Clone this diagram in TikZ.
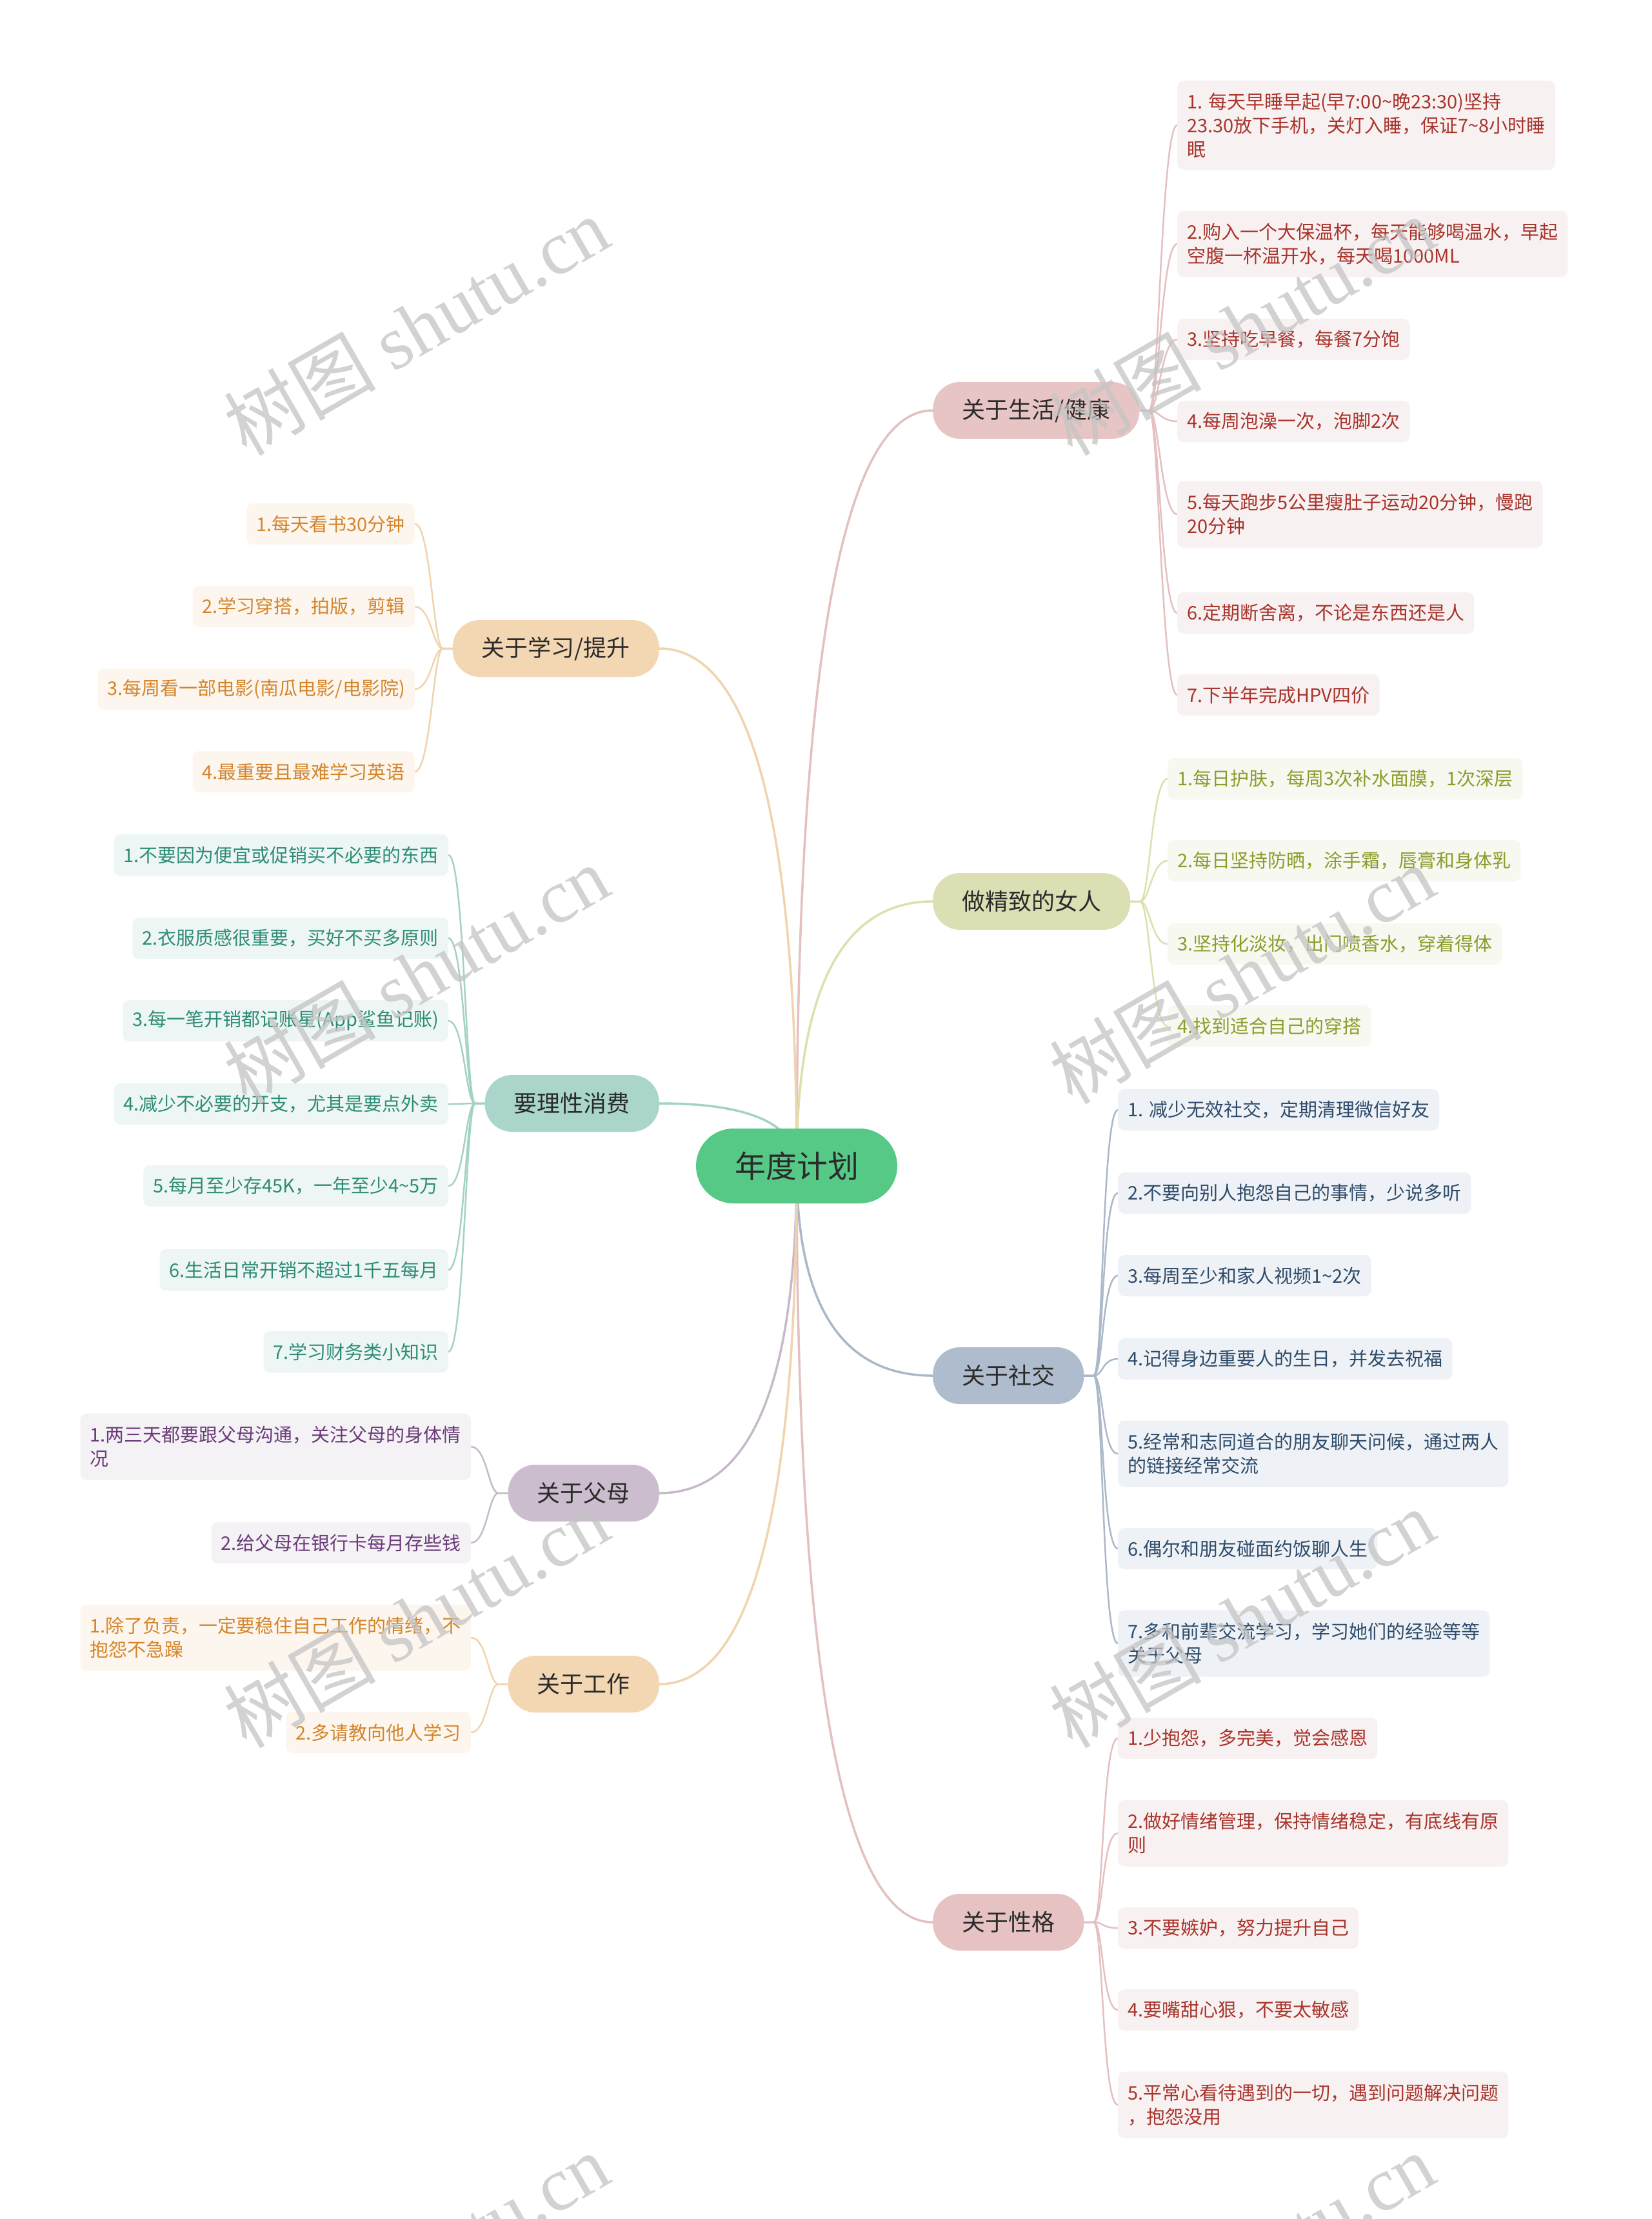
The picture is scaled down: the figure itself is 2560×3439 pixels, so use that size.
\documentclass[tikz,border=0pt]{standalone}
\usepackage{fontspec}
\setmainfont{Noto Sans CJK SC}
\newfontfamily\wmserif{Liberation Serif}
\usetikzlibrary{calc,backgrounds}
\newcommand\tld{\textasciitilde}
\definecolor{rootg}{HTML}{55C985}
\definecolor{tdark}{HTML}{2B2B2B}
% branch fills
\definecolor{bred}{HTML}{E8C5C5}
\definecolor{bolive}{HTML}{DCDFB3}
\definecolor{bslate}{HTML}{AEBCCE}
\definecolor{bpink}{HTML}{E6C2C2}
\definecolor{borange}{HTML}{F3D6B2}
\definecolor{bteal}{HTML}{A9D5CB}
\definecolor{bpurple}{HTML}{CBBDCD}
% line colours
\definecolor{cred}{HTML}{E4C0C0}
\definecolor{colive}{HTML}{DDE0AE}
\definecolor{cslate}{HTML}{AAB8CA}
\definecolor{corange}{HTML}{F1D3AE}
\definecolor{cteal}{HTML}{A4D2C6}
\definecolor{cpurple}{HTML}{C7B9CA}
% leaf text
\definecolor{tred}{HTML}{A8342C}
\definecolor{tolive}{HTML}{8E9B2C}
\definecolor{tslate}{HTML}{2F4B6A}
\definecolor{torange}{HTML}{D4852B}
\definecolor{tteal}{HTML}{2E8C76}
\definecolor{tpurple}{HTML}{6B3B7A}
% leaf fills
\definecolor{fred}{HTML}{F8F1F1}
\definecolor{folive}{HTML}{F7F8F0}
\definecolor{fslate}{HTML}{EEF2F6}
\definecolor{forange}{HTML}{FDF6EE}
\definecolor{fteal}{HTML}{EDF6F4}
\definecolor{fpurple}{HTML}{F4F2F5}
\definecolor{wmgray}{HTML}{C4C4C4}

\tikzset{
  rootbox/.style={fill=rootg, rounded corners=58pt, minimum height=116pt, minimum width=312pt, inner xsep=20pt, text=tdark, font=\fontsize{48}{52}\selectfont},
  branch/.style={rounded corners=42pt, minimum height=88pt, inner xsep=45pt, inner ysep=2pt, text=tdark, font=\fontsize{36}{40}\selectfont},
  leaf/.style={rounded corners=10pt, inner xsep=15pt, inner ysep=2pt, minimum height=64pt, align=left, font=\fontsize{29}{37}\selectfont},
  ltwo/.style={minimum height=103pt},
  lthree/.style={minimum height=138pt},
  Lred/.style={leaf, fill=fred, text=tred},
  Lolive/.style={leaf, fill=folive, text=tolive},
  Lslate/.style={leaf, fill=fslate, text=tslate},
  Lorange/.style={leaf, fill=forange, text=torange},
  Lteal/.style={leaf, fill=fteal, text=tteal},
  Lpurple/.style={leaf, fill=fpurple, text=tpurple},
  mainline/.style={line width=3.5pt, line cap=round},
  subline/.style={line width=2.5pt, line cap=round},
  mconn/.style={to path={.. controls ($(\tikztostart)!2/3!(\tikztostart|-\tikztotarget)$) and ($(\tikztotarget)!2/3!(\tikztostart|-\tikztotarget)$) .. (\tikztotarget)}},
  rconn/.style={to path={-- ++(15,0) .. controls +(15,0) and +(-25,0) .. (\tikztotarget)}},
  lconn/.style={to path={-- ++(-15,0) .. controls +(-15,0) and +(25,0) .. (\tikztotarget)}},
  wm/.style={rotate=30, text=wmgray, text opacity=0.75, font=\fontsize{118}{118}\selectfont, inner sep=0pt},
}

\begin{document}
\begin{tikzpicture}[x=1pt,y=-1pt]
\useasboundingbox (0,0) rectangle (2560,3439);
\clip (0,0) rectangle (2560,3439);

% root
\node[rootbox] (root) at (1235,1807) {年度计划};

% main branches
\node[branch, fill=bred, anchor=west] (b1) at (1446,636) {关于生活/健康};
\node[branch, fill=bolive, anchor=west] (b2) at (1446,1397) {做精致的女人};
\node[branch, fill=bslate, anchor=west] (b3) at (1446,2132) {关于社交};
\node[branch, fill=bpink, anchor=west] (b4) at (1446,2979) {关于性格};
\node[branch, fill=borange, anchor=east] (b5) at (1022,1005) {关于学习/提升};
\node[branch, fill=bteal, anchor=east] (b6) at (1022,1710) {要理性消费};
\node[branch, fill=bpurple, anchor=east] (b7) at (1022,2314) {关于父母};
\node[branch, fill=borange, anchor=east] (b8) at (1022,2610) {关于工作};

% b1 leaves
\node[Lred, lthree, anchor=west] (b1l1) at (1825,194) {1. 每天早睡早起(早7:00\tld 晚23:30)坚持\\23.30放下手机，关灯入睡，保证7\tld 8小时睡\\眠};
\node[Lred, ltwo, anchor=west] (b1l2) at (1825,378) {2.购入一个大保温杯，每天能够喝温水，早起\\空腹一杯温开水，每天喝1000ML};
\node[Lred, anchor=west] (b1l3) at (1825,526) {3.坚持吃早餐，每餐7分饱};
\node[Lred, anchor=west] (b1l4) at (1825,653) {4.每周泡澡一次，泡脚2次};
\node[Lred, ltwo, anchor=west] (b1l5) at (1825,797) {5.每天跑步5公里瘦肚子运动20分钟，慢跑\\20分钟};
\node[Lred, anchor=west] (b1l6) at (1825,950) {6.定期断舍离，不论是东西还是人};
\node[Lred, anchor=west] (b1l7) at (1825,1077) {7.下半年完成HPV四价};

% b2 leaves
\node[Lolive, anchor=west] (b2l1) at (1810,1207) {1.每日护肤，每周3次补水面膜，1次深层};
\node[Lolive, anchor=west] (b2l2) at (1810,1334) {2.每日坚持防晒，涂手霜，唇膏和身体乳};
\node[Lolive, anchor=west] (b2l3) at (1810,1463) {3.坚持化淡妆，出门喷香水，穿着得体};
\node[Lolive, anchor=west] (b2l4) at (1810,1590) {4.找到适合自己的穿搭};

% b3 leaves
\node[Lslate, anchor=west] (b3l1) at (1733,1720) {1. 减少无效社交，定期清理微信好友};
\node[Lslate, anchor=west] (b3l2) at (1733,1849) {2.不要向别人抱怨自己的事情，少说多听};
\node[Lslate, anchor=west] (b3l3) at (1733,1977) {3.每周至少和家人视频1\tld 2次};
\node[Lslate, anchor=west] (b3l4) at (1733,2106) {4.记得身边重要人的生日，并发去祝福};
\node[Lslate, ltwo, anchor=west] (b3l5) at (1733,2253) {5.经常和志同道合的朋友聊天问候，通过两人\\的链接经常交流};
\node[Lslate, anchor=west] (b3l6) at (1733,2400) {6.偶尔和朋友碰面约饭聊人生};
\node[Lslate, ltwo, anchor=west] (b3l7) at (1733,2547) {7.多和前辈交流学习，学习她们的经验等等\\关于父母};

% b4 leaves
\node[Lred, anchor=west] (b4l1) at (1733,2694) {1.少抱怨，多完美，觉会感恩};
\node[Lred, ltwo, anchor=west] (b4l2) at (1733,2841) {2.做好情绪管理，保持情绪稳定，有底线有原\\则};
\node[Lred, anchor=west] (b4l3) at (1733,2988) {3.不要嫉妒，努力提升自己};
\node[Lred, anchor=west] (b4l4) at (1733,3115) {4.要嘴甜心狠，不要太敏感};
\node[Lred, ltwo, anchor=west] (b4l5) at (1733,3262) {5.平常心看待遇到的一切，遇到问题解决问题\\，抱怨没用};

% b5 leaves
\node[Lorange, anchor=east] (b5l1) at (643,812) {1.每天看书30分钟};
\node[Lorange, anchor=east] (b5l2) at (643,940) {2.学习穿搭，拍版，剪辑};
\node[Lorange, anchor=east] (b5l3) at (643,1068) {3.每周看一部电影(南瓜电影/电影院)};
\node[Lorange, anchor=east] (b5l4) at (643,1196) {4.最重要且最难学习英语};

% b6 leaves
\node[Lteal, anchor=east] (b6l1) at (695,1325) {1.不要因为便宜或促销买不必要的东西};
\node[Lteal, anchor=east] (b6l2) at (695,1454) {2.衣服质感很重要，买好不买多原则};
\node[Lteal, anchor=east] (b6l3) at (695,1582) {3.每一笔开销都记账星(App鲨鱼记账)};
\node[Lteal, anchor=east] (b6l4) at (695,1711) {4.减少不必要的开支，尤其是要点外卖};
\node[Lteal, anchor=east] (b6l5) at (695,1838) {5.每月至少存45K，一年至少4\tld 5万};
\node[Lteal, anchor=east] (b6l6) at (695,1968) {6.生活日常开销不超过1千五每月};
\node[Lteal, anchor=east] (b6l7) at (695,2095) {7.学习财务类小知识};

% b7 leaves
\node[Lpurple, ltwo, anchor=east] (b7l1) at (730,2242) {1.两三天都要跟父母沟通，关注父母的身体情\\况};
\node[Lpurple, anchor=east] (b7l2) at (730,2391) {2.给父母在银行卡每月存些钱};

% b8 leaves
\node[Lorange, ltwo, anchor=east] (b8l1) at (730,2538) {1.除了负责，一定要稳住自己工作的情绪，不\\抱怨不急躁};
\node[Lorange, anchor=east] (b8l2) at (730,2685) {2.多请教向他人学习};

\begin{pgfonlayer}{background}
\fill[white] (0,0) rectangle (2560,3439);
% root to branches
\draw[mainline, cred] (root.center) to[mconn] (b1.west);
\draw[mainline, colive] (root.center) to[mconn] (b2.west);
\draw[mainline, cslate] (root.center) to[mconn] (b3.west);
\draw[mainline, cred] (root.center) to[mconn] (b4.west);
\draw[mainline, corange] (root.center) to[mconn] (b5.east);
\draw[mainline, cteal] (root.center) to[mconn] (b6.east);
\draw[mainline, cpurple] (root.center) to[mconn] (b7.east);
\draw[mainline, corange] (root.center) to[mconn] (b8.east);
% branches to leaves
\foreach \i in {1,...,7} {\draw[subline, cred] (b1.east) to[rconn] (b1l\i.west);}
\foreach \i in {1,...,4} {\draw[subline, colive] (b2.east) to[rconn] (b2l\i.west);}
\foreach \i in {1,...,7} {\draw[subline, cslate] (b3.east) to[rconn] (b3l\i.west);}
\foreach \i in {1,...,5} {\draw[subline, cred] (b4.east) to[rconn] (b4l\i.west);}
\foreach \i in {1,...,4} {\draw[subline, corange] (b5.west) to[lconn] (b5l\i.east);}
\foreach \i in {1,...,7} {\draw[subline, cteal] (b6.west) to[lconn] (b6l\i.east);}
\foreach \i in {1,...,2} {\draw[subline, cpurple] (b7.west) to[lconn] (b7l\i.east);}
\foreach \i in {1,...,2} {\draw[subline, corange] (b8.west) to[lconn] (b8l\i.east);}
\end{pgfonlayer}

% watermarks
\node[wm] (w1) at (645,505) {树图 {\wmserif shutu.cn}};
\node[wm] (w2) at (1925,505) {树图 {\wmserif shutu.cn}};
\node[wm] (w3) at (645,1510) {树图 {\wmserif shutu.cn}};
\node[wm] (w4) at (1925,1510) {树图 {\wmserif shutu.cn}};
\node[wm] (w5) at (645,2508) {树图 {\wmserif shutu.cn}};
\node[wm] (w6) at (1925,2508) {树图 {\wmserif shutu.cn}};
\node[wm] (w7) at (645,3506) {树图 {\wmserif shutu.cn}};
\node[wm] (w8) at (1925,3506) {树图 {\wmserif shutu.cn}};
\end{tikzpicture}
\end{document}
